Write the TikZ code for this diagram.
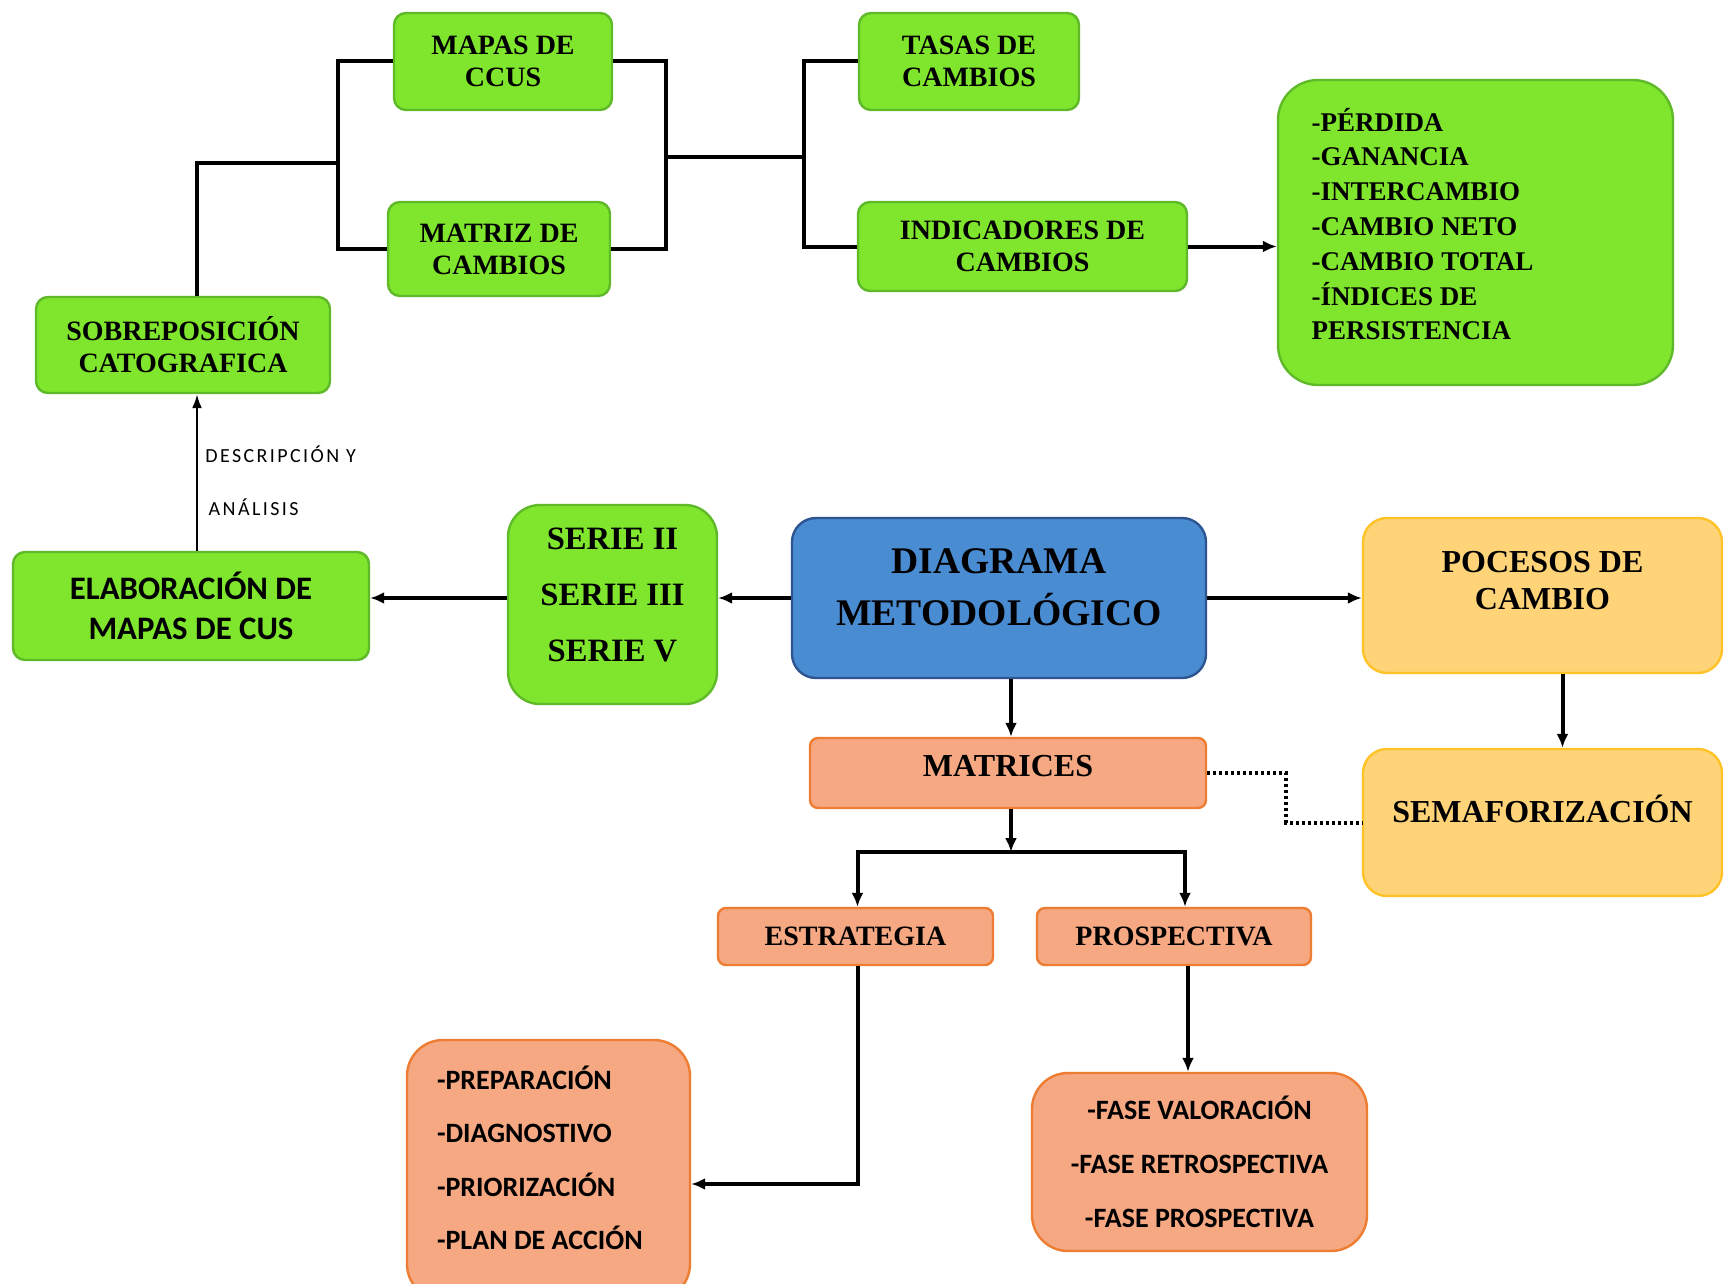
\documentclass[tikz,border=0pt]{standalone}
\usepackage{fontspec}
\setmainfont{Liberation Serif}
\newfontfamily\carl{Carlito}
\newfontfamily\carlsp[LetterSpace=12]{Carlito}
\usetikzlibrary{arrows.meta}
\definecolor{gfill}{RGB}{128,230,45}
\definecolor{gedge}{RGB}{95,185,40}
\definecolor{bfill}{RGB}{74,140,210}
\definecolor{bedge}{RGB}{45,85,145}
\definecolor{yfill}{RGB}{255,212,120}
\definecolor{yedge}{RGB}{255,195,40}
\definecolor{sfill}{RGB}{245,168,130}
\definecolor{sedge}{RGB}{236,125,50}
\tikzset{
  box/.style={line width=1.2pt, align=center, inner sep=0pt},
  greenbox/.style={box, draw=gedge, fill=gfill, rounded corners=6pt},
  bluebox/.style={box, draw=bedge, fill=bfill, rounded corners=12pt},
  yellowbox/.style={box, draw=yedge, fill=yfill, rounded corners=12pt},
  salmonbox/.style={box, draw=sedge, fill=sfill, rounded corners=4pt},
  sera/.style={font=\fontsize{14pt}{16pt}\selectfont\bfseries},
  serb/.style={font=\fontsize{16pt}{18.7pt}\selectfont\bfseries},
  sansa/.style={font=\fontsize{14pt}{26.6pt}\selectfont\carl\bfseries},
  conn/.style={line width=2pt, draw=black},
  arr/.style={conn, -{Latex[length=7pt,width=6pt]}},
  thinarr/.style={line width=1.2pt, draw=black, -{Latex[length=7pt,width=5pt]}},
  dots/.style={line width=2pt, draw=black, dash pattern=on 1.5pt off 1.5pt},
  lbl/.style={font=\fontsize{10pt}{26.5pt}\selectfont\carlsp, align=left, inner sep=0pt}
}
\begin{document}
\begin{tikzpicture}[x=0.5pt,y=-0.5pt]
\useasboundingbox (0,0) rectangle (1724,1284);
\fill[white] (0,0) rectangle (1724,1284);

% green boxes top
\node[greenbox, sera, minimum width=109pt, minimum height=48.5pt] (mapas) at (503,61.5) {MAPAS DE\\CCUS};
\node[greenbox, sera, minimum width=111pt, minimum height=47pt] (matriz) at (499,249) {MATRIZ DE\\CAMBIOS};
\node[greenbox, sera, minimum width=147pt, minimum height=48pt] (sobre) at (183,345) {SOBREPOSICIÓN\\CATOGRAFICA};
\node[greenbox, sera, minimum width=110pt, minimum height=48.5pt] (tasas) at (969,61.5) {TASAS DE\\CAMBIOS};
\node[greenbox, sera, minimum width=164.5pt, minimum height=44.5pt] (indic) at (1022.5,246.5) {INDICADORES DE\\CAMBIOS};
\node[greenbox, rounded corners=20pt, minimum width=197.5pt, minimum height=152.5pt,
      text width=164pt, align=flush left, font=\fontsize{13.5pt}{17.4pt}\selectfont\bfseries,
      text depth=113pt] (lista) at (1475.5,232.5)
  {-PÉRDIDA\\-GANANCIA\\-INTERCAMBIO\\-CAMBIO NETO\\-CAMBIO TOTAL\\-ÍNDICES DE\\PERSISTENCIA};

% middle row
\node[greenbox, minimum width=178pt, minimum height=54pt,
      font=\fontsize{16.4pt}{19.8pt}\selectfont\carl\bfseries] (elab) at (191,606) {ELABORACIÓN DE\\MAPAS DE CUS};
\node[greenbox, rounded corners=16pt, minimum width=104.5pt, minimum height=99.5pt,
      font=\fontsize{16.3pt}{28pt}\selectfont\bfseries, text depth=10pt] (serie) at (612.5,604.5) {SERIE II\\SERIE III\\SERIE V};
\node[bluebox, minimum width=207pt, minimum height=80pt,
      font=\fontsize{18.8pt}{26pt}\selectfont\bfseries, text depth=11pt] (diag) at (999,598) {DIAGRAMA\\METODOLÓGICO};
\node[yellowbox, serb, minimum width=179.5pt, minimum height=77.5pt, text depth=15pt] (poc) at (1542.5,595.5) {POCESOS DE\\CAMBIO};
\node[yellowbox, serb, minimum width=179.5pt, minimum height=73.5pt, text depth=14pt] (semaf) at (1542.5,822.5) {SEMAFORIZACIÓN};

% salmon boxes
\node[salmonbox, serb, minimum width=198pt, minimum height=35pt, text depth=7pt] (matrices) at (1008,773) {MATRICES};
\node[salmonbox, sera, minimum width=137.5pt, minimum height=28.5pt] (estr) at (855.5,936.5) {ESTRATEGIA};
\node[salmonbox, sera, minimum width=137pt, minimum height=28.5pt] (prosp) at (1174,936.5) {PROSPECTIVA};
\node[salmonbox, sansa, rounded corners=18pt, minimum width=141.5pt, minimum height=130pt,
      text width=111.5pt, align=flush left, text depth=92pt] (prep) at (548.5,1170)
  {-PREPARACIÓN\\-DIAGNOSTIVO\\-PRIORIZACIÓN\\-PLAN DE ACCIÓN};
\node[salmonbox, rounded corners=18pt, minimum width=167.5pt, minimum height=89pt,
      font=\fontsize{14pt}{27pt}\selectfont\carl\bfseries] (fase) at (1199.5,1162)
  {-FASE VALORACIÓN\\-FASE RETROSPECTIVA\\-FASE PROSPECTIVA};

% connectors top
\coordinate (j1) at (338,163);
\coordinate (j2) at (666,157);
\coordinate (j3) at (804,157);
\draw[conn] (mapas.west) -| (j1) |- (matriz.west);
\draw[conn] ([xshift=7pt]sobre.north) |- (j1);
\draw[conn] (mapas.east) -| (j2) |- (matriz.east);
\draw[conn] (j2) -- (j3);
\draw[conn] (tasas.west) -| (j3) |- (indic.west);
\draw[arr] (indic.east) -- (indic.east -| lista.west);

% left vertical with label
\draw[thinarr] ([xshift=3pt]elab.north) -- ([xshift=7pt]sobre.south);
\node[lbl, anchor=west] (desc) at (205,481) {DESCRIPCIÓN Y\\ \,ANÁLISIS};

% middle row arrows
\draw[arr] (serie.west |- diag.west) -- (diag.west -| elab.east);
\draw[arr] (diag.west) -- (diag.west -| serie.east);
\draw[arr] (diag.east) -- (diag.east -| poc.west);
\draw[arr] ([xshift=1.5pt]matrices.north |- diag.south) -- ([xshift=1.5pt]matrices.north);
\draw[arr] ([xshift=10pt]poc.south) -- ([xshift=10pt]semaf.north);

% dotted link
\coordinate (j4) at (1286,797);
\draw[dots] (matrices.east) -| (j4) |- (semaf.west);

% lower tree
\coordinate (bar) at (1011,852);
\draw[arr] ([xshift=1.5pt]matrices.south) -- (bar);
\draw[conn, {Latex[length=7pt,width=6pt]}-{Latex[length=7pt,width=6pt]}] ([xshift=1pt]estr.north) |- (bar) -| ([xshift=5.5pt]prosp.north);
\draw[arr] ([xshift=1pt]estr.south) |- ([yshift=-7pt]prep.east);
\draw[arr] ([xshift=7pt]prosp.south) -- ([xshift=7pt]prosp.south |- fase.north);
\end{tikzpicture}
\end{document}
